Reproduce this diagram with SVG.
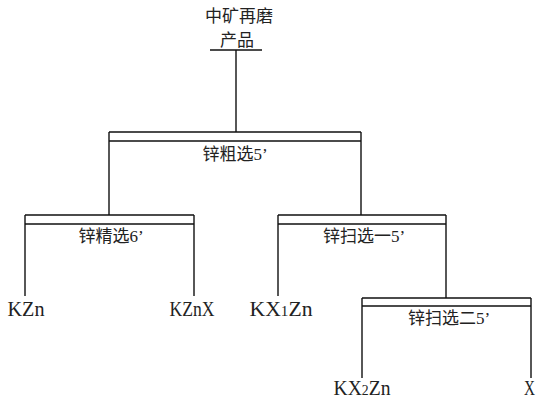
<svg xmlns="http://www.w3.org/2000/svg" width="537" height="404" viewBox="0 0 537 404">
<style>
.ln{stroke:#111;stroke-width:1.4;fill:none}
.lb{font-family:"Liberation Serif","Noto Sans CJK SC",serif;font-size:17px;fill:#222;text-anchor:middle}
.lf{font-family:"Liberation Serif","Noto Sans CJK SC",serif;font-size:20px;fill:#222;text-anchor:middle}
.sub{font-size:14px}
</style>
<rect width="537" height="404" fill="#fff"/>
<g id="connectors">
<path class="ln" d="M210 50H262M236 50V132"/>
<path class="ln" d="M109 215V132M361 215V132"/>
<path class="ln" d="M25 296V215M194 296V215"/>
<path class="ln" d="M278 296V215M446 298V215"/>
<path class="ln" d="M362 378V298M531 378V298"/>
</g>
<g id="root">
<text class="lb" x="239" y="22">中矿再磨</text>
<text class="lb" x="237" y="46">产品</text>
</g>
<g id="n1">
<path class="ln" d="M109 132H361M109 141H361"/>
<text class="lb" x="235" y="160">锌粗选5’</text>
</g>
<g id="n2">
<path class="ln" d="M25 215H194M25 224H194"/>
<text class="lb" x="111" y="242">锌精选6’</text>
</g>
<g id="n3">
<path class="ln" d="M278 215H446M278 224H446"/>
<text class="lb" x="364" y="242">锌扫选一5’</text>
</g>
<g id="n4">
<path class="ln" d="M362 298H531M362 306H531"/>
<text class="lb" x="449" y="324">锌扫选二5’</text>
</g>
<g id="l1"><text class="lf" x="26" y="316" textLength="37" lengthAdjust="spacingAndGlyphs">KZn</text></g>
<g id="l2"><text class="lf" x="192" y="316" textLength="45" lengthAdjust="spacingAndGlyphs">KZnX</text></g>
<g id="l3"><text class="lf" x="281" y="316" textLength="63" lengthAdjust="spacingAndGlyphs">KX<tspan class="sub">1</tspan>Zn</text></g>
<g id="l4"><text class="lf" x="362" y="395" textLength="57" lengthAdjust="spacingAndGlyphs">KX<tspan class="sub">2</tspan>Zn</text></g>
<g id="l5"><text class="lf" x="529.5" y="395" textLength="11" lengthAdjust="spacingAndGlyphs">X</text></g>
</svg>
